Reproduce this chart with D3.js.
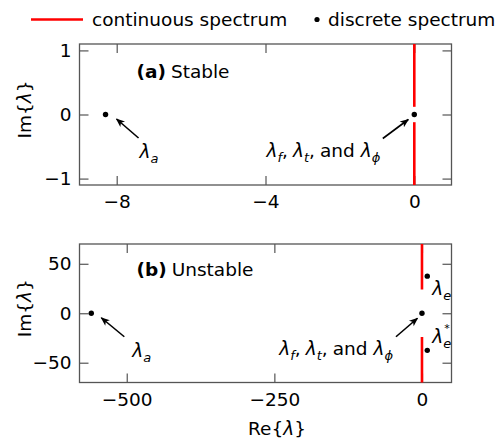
<!DOCTYPE html>
<html lang="en">
<head>
<meta charset="UTF-8">
<title>Continuous and discrete spectrum</title>
<script src="https://d3js.org/d3.v7.min.js"></script>
<style>
    body { margin: 0; background: #fff; }
    svg text { font-family: 'DejaVu Sans', sans-serif; font-size: 18.5px; fill: #000; }
</style>
</head>
<body>
<svg width="495" height="439"></svg>
<script>
    const legendLabels = ["continuous spectrum", "discrete spectrum"];

    // (a) stable case
    const stableXTicks = [-8, -4, 0];
    const stableYTicks = [-1, 0, 1];
    const stableRe = [-8.3, 0];
    const stableIm = [0, 0];
    const stableCont = [[0.12, 1.1], [-0.12, -1.1]];   // branches on Re = 0

    // (b) unstable case
    const unstableXTicks = [-500, -250, 0];
    const unstableYTicks = [-50, 0, 50];
    const unstableRe = [-560, 0, 9, 9];
    const unstableIm = [0, 0, 37.5, -37.5];
    const unstableCont = [[24, 70], [-24, -70]];

    const RED = "#ff0000";
    const FRAME = "#555";

    // math label pieces
    const lam = { t: "λ", it: true };
    const lamA = [lam, { t: "a", it: true, sub: true }];
    const lamFTPhi = [lam, { t: "f", it: true, sub: true }, { t: "," }, { gap: 5 },
        lam, { t: "t", it: true, sub: true }, { t: "," }, { gap: 5 },
        { t: "and" }, { gap: 6 }, lam, { t: "ϕ", it: true, sub: true }];
    const lamE = [lam, { t: "e", it: true, sub: true }];
    const lamEStar = [lam, { t: "e", it: true, sub: true }, { t: "*", sup: true, over: true }];

    const svg = d3.select("svg");

    // one text element, pieces as tspans (italic, sub- and superscripts)
    function mathText(parent, parts, x, y, anchor) {
        const text = parent.append("text")
            .attr("x", x).attr("y", y)
            .attr("text-anchor", anchor);
        let shift = 0, gap = 0, prev = null;
        parts.forEach(p => {
            if (p.gap) { gap += p.gap; return; }
            const target = p.sub ? 5 : p.sup ? -10.5 : 0;
            if (p.over && prev) gap -= prev.node().getComputedTextLength() - 1;
            prev = text.append("tspan")
                .attr("dy", target - shift)
                .attr("dx", gap || null)
                .style("font-size", p.sub ? "13px" : p.sup ? "11px" : null)
                .style("font-style", p.it ? "italic" : null)
                .style("font-weight", p.bold ? "bold" : null)
                .text(p.t);
            shift = target;
            gap = 0;
        });
        return text;
    }

    svg.append("defs").append("marker")
        .attr("id", "head")
        .attr("viewBox", "0 0 10 10")
        .attr("refX", 9).attr("refY", 5)
        .attr("markerWidth", 10).attr("markerHeight", 9)
        .attr("markerUnits", "userSpaceOnUse")
        .attr("orient", "auto")
        .append("path")
        .attr("d", "M0,1 L10,5 L0,9 L2.5,5 Z")
        .attr("fill", "#000");

    // legend
    svg.append("line")
        .attr("x1", 31).attr("x2", 83).attr("y1", 19.5).attr("y2", 19.5)
        .attr("stroke", RED).attr("stroke-width", 2.6);
    svg.append("text").attr("x", 92).attr("y", 25.5).text(legendLabels[0]);
    svg.append("circle").attr("cx", 317).attr("cy", 19.5).attr("r", 2.6).attr("fill", "#000");
    svg.append("text").attr("x", 328).attr("y", 25.5).text(legendLabels[1]);

    const panels = [
        {
            x: d3.scaleLinear().domain([-9, 1]).range([79.5, 451.5]),
            y: d3.scaleLinear().domain([-1.1, 1.1]).range([185, 44]),
            xTicks: stableXTicks, yTicks: stableYTicks,
            re: stableRe, im: stableIm, cont: stableCont,
            tag: "(a)", title: "Stable", titleY: 78,
            notes: [
                { i: 0, head: [11, 4.5], tail: [33, 23.5], label: lamA, lx: 34, ly: 43, anchor: "start" },
                { i: 1, head: [-6, 5], tail: [-31.5, 24], label: lamFTPhi, lx: -34, ly: 42.5, anchor: "end" }
            ],
            showXLabel: false
        },
        {
            x: d3.scaleLinear().domain([-580, 50]).range([79.5, 451.5]),
            y: d3.scaleLinear().domain([-70, 70]).range([382.5, 244]),
            xTicks: unstableXTicks, yTicks: unstableYTicks,
            re: unstableRe, im: unstableIm, cont: unstableCont,
            tag: "(b)", title: "Unstable", titleY: 275.5,
            notes: [
                { i: 0, head: [10, 4.5], tail: [33, 23.5], label: lamA, lx: 41, ly: 43.5, anchor: "start" },
                { i: 1, head: [-4.5, 5], tail: [-26, 23.5], label: lamFTPhi, lx: -29, ly: 42, anchor: "end" },
                { i: 2, label: lamE, lx: 5, ly: 19, anchor: "start" },
                { i: 3, label: lamEStar, lx: 5, ly: -7.5, anchor: "start" }
            ],
            showXLabel: true
        }
    ];

    const fmt = d3.format("d");

    panels.forEach(p => {
        const g = svg.append("g");
        const [x0, x1] = p.x.range();
        const [y1, y0] = p.y.range();

        const left = g.append("g").attr("transform", `translate(${x0},0)`)
            .call(d3.axisLeft(p.y).tickValues(p.yTicks).tickFormat(fmt)
                .tickSizeInner(-9).tickSizeOuter(0).tickPadding(8));
        const right = g.append("g").attr("transform", `translate(${x1},0)`)
            .call(d3.axisRight(p.y).tickValues(p.yTicks).tickSizeInner(-9).tickSizeOuter(0).tickFormat(""));
        const bottom = g.append("g").attr("transform", `translate(0,${y1})`)
            .call(d3.axisBottom(p.x).tickValues(p.xTicks).tickFormat(fmt)
                .tickSizeInner(-9).tickSizeOuter(0).tickPadding(10));
        const top = g.append("g").attr("transform", `translate(0,${y0})`)
            .call(d3.axisTop(p.x).tickValues(p.xTicks).tickSizeInner(-9).tickSizeOuter(0).tickFormat(""));
        [left, right, bottom, top].forEach(a => {
            a.attr("font-family", null).attr("font-size", null);
            a.select(".domain").remove();
            a.selectAll(".tick line").attr("stroke", FRAME).attr("stroke-width", 1.2);
        });

        g.append("rect")
            .attr("x", x0).attr("y", y0)
            .attr("width", x1 - x0).attr("height", y1 - y0)
            .attr("fill", "none").attr("stroke", FRAME).attr("stroke-width", 1.3);

        // continuous spectrum on the imaginary axis
        g.selectAll(".cont").data(p.cont).join("line")
            .attr("class", "cont")
            .attr("x1", p.x(0)).attr("x2", p.x(0))
            .attr("y1", d => p.y(d[0])).attr("y2", d => p.y(d[1]))
            .attr("stroke", RED).attr("stroke-width", 2.6);

        // discrete eigenvalues
        g.selectAll(".eig").data(p.re).join("circle")
            .attr("class", "eig")
            .attr("cx", d => p.x(d))
            .attr("cy", (d, i) => p.y(p.im[i]))
            .attr("r", 2.7)
            .attr("fill", "#000");

        // annotations
        p.notes.forEach(n => {
            const px = p.x(p.re[n.i]), py = p.y(p.im[n.i]);
            if (n.head) {
                g.append("line")
                    .attr("x1", px + n.tail[0]).attr("y1", py + n.tail[1])
                    .attr("x2", px + n.head[0]).attr("y2", py + n.head[1])
                    .attr("stroke", "#000").attr("stroke-width", 1.6)
                    .attr("marker-end", "url(#head)");
            }
            mathText(g, n.label, px + n.lx, py + n.ly, n.anchor);
        });

        mathText(g, [{ t: p.tag, bold: true }, { gap: 5 }, { t: p.title }], x0 + 57, p.titleY, "start");

        const yl = g.append("g").attr("transform", `translate(31,${(y0 + y1) / 2 - 5}) rotate(-90)`);
        mathText(yl, [{ t: "Im{" }, lam, { t: "}" }], 0, 0, "middle");

        if (p.showXLabel) {
            mathText(g, [{ t: "Re{" }, lam, { t: "}" }], 277, 435, "middle");
        }
    });
</script>
</body>
</html>
